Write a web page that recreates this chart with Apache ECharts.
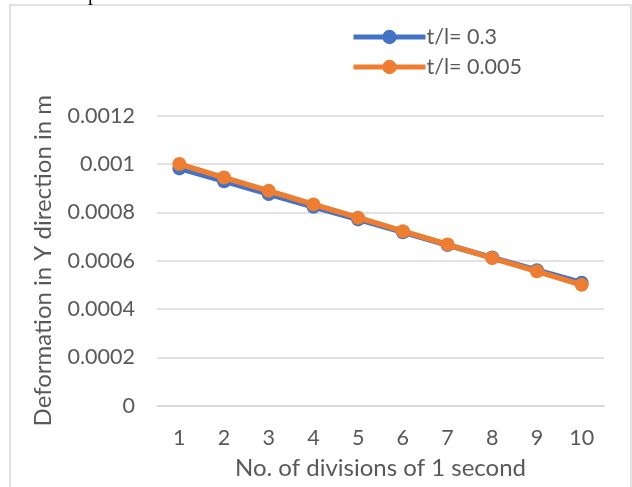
<!DOCTYPE html>
<html>
<head>
<meta charset="utf-8">
<script src="https://cdn.jsdelivr.net/npm/echarts@6/dist/echarts.min.js"></script>
<style>
  html, body { margin: 0; padding: 0; background: #fff; }
  #chart { width: 632px; height: 487px; }
</style>
</head>
<body>
<div id="chart"></div>
<script>
// Divisions of one second (x categories)
const divisions = ['1', '2', '3', '4', '5', '6', '7', '8', '9', '10'];

// Deformation in Y direction (m) for each thickness ratio
const seriesNames = ['t/l= 0.3', 't/l= 0.005'];
const deformThick = [0.000982, 0.000929, 0.000876, 0.000823, 0.000771, 0.000718, 0.000665, 0.000613, 0.000561, 0.000509];
const deformThin = [0.001, 0.000944, 0.000889, 0.000833, 0.000778, 0.000722, 0.000667, 0.000611, 0.000556, 0.0005];

// Y-axis range
const yMin = 0;
const yMax = 0.0012;
const yStep = 0.0002;

const FONT = 'Lato, "Open Sans", sans-serif';
const TEXT = '#595959';
const GRID = '#d9d9d9';

const chart = echarts.init(document.getElementById('chart'), null, { renderer: 'canvas' });

chart.setOption({
  backgroundColor: '#ffffff',
  animation: false,
  grid: { left: 157, right: 28, top: 115.7, bottom: 81.3, containLabel: false },
  legend: {
    orient: 'vertical',
    left: 346,
    top: 21,
    itemWidth: 72,
    itemHeight: 18,
    itemGap: 8,
    lineStyle: { width: 5 },
    textStyle: { fontFamily: FONT, fontSize: 21.5, color: TEXT, padding: [0, 0, 0, -4] },
    data: seriesNames
  },
  xAxis: {
    type: 'category',
    data: divisions,
    boundaryGap: true,
    name: 'No. of divisions of 1 second',
    nameLocation: 'middle',
    nameGap: 51,
    nameTextStyle: { fontFamily: FONT, fontSize: 24, color: TEXT },
    axisLine: { show: true, lineStyle: { color: GRID, width: 1.5 } },
    axisTick: { show: false },
    axisLabel: { fontFamily: FONT, fontSize: 21.5, color: TEXT, margin: 21 }
  },
  yAxis: {
    type: 'value',
    min: yMin,
    max: yMax,
    interval: yStep,
    name: 'Deformation in Y direction in m',
    nameLocation: 'middle',
    nameGap: 102,
    nameRotate: 90,
    nameTextStyle: { fontFamily: FONT, fontSize: 24, color: TEXT },
    axisLine: { show: false },
    axisTick: { show: false },
    splitLine: { lineStyle: { color: GRID, width: 1.5 } },
    axisLabel: {
      fontFamily: FONT, fontSize: 21.5, color: TEXT, margin: 22,
      formatter: v => String(+v.toFixed(4))
    }
  },
  series: [
    {
      name: seriesNames[0],
      type: 'line',
      data: deformThick,
      symbol: 'circle',
      symbolSize: 14,
      color: '#4472C4',
      lineStyle: { width: 5.5, color: '#4472C4' },
      itemStyle: { color: '#4472C4' },
      z: 2
    },
    {
      name: seriesNames[1],
      type: 'line',
      data: deformThin,
      symbol: 'circle',
      symbolSize: 14,
      color: '#ED7D31',
      lineStyle: { width: 5.5, color: '#ED7D31' },
      itemStyle: { color: '#ED7D31' },
      z: 3
    }
  ],
  graphic: [
    {
      type: 'rect',
      silent: true,
      shape: { x: 10, y: 5, width: 621, height: 500 },
      style: { fill: 'none', stroke: GRID, lineWidth: 1.5 }
    },
    {
      type: 'text',
      silent: true,
      x: 88,
      y: 5,
      style: {
        text: 'p',
        font: '20px "Liberation Serif", serif',
        fill: '#000',
        verticalAlign: 'bottom'
      }
    }
  ]
});
</script>
</body>
</html>
